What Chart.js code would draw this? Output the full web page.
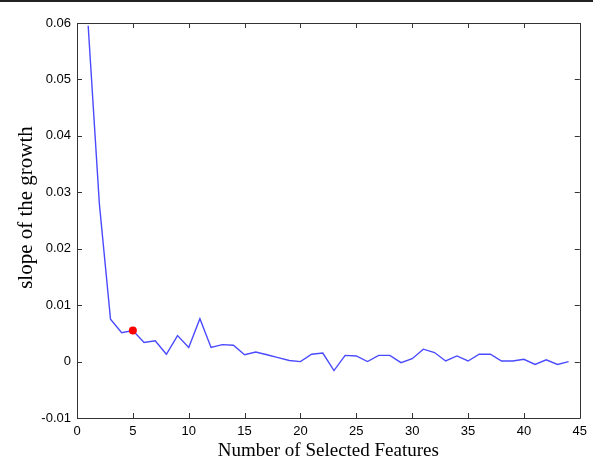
<!DOCTYPE html>
<html>
<head>
<meta charset="utf-8">
<script src="https://cdn.jsdelivr.net/npm/chart.js@4"></script>
<style>
  html, body { margin: 0; padding: 0; background: #fff; }
  canvas { display: block; }
</style>
</head>
<body>
<canvas id="c" width="593" height="460"></canvas>
<script>
// Number of selected features on the horizontal axis
const featureCounts = [
  1, 2, 3, 4, 5, 6, 7, 8, 9, 10, 11, 12, 13, 14, 15, 16, 17, 18, 19, 20, 21, 22,
  23, 24, 25, 26, 27, 28, 29, 30, 31, 32, 33, 34, 35, 36, 37, 38, 39, 40, 41, 42, 43, 44
];

// Slope of the growth for each feature count
const slopeValues = [
  0.0595, 0.0280, 0.0075, 0.0051, 0.0055, 0.0034, 0.0037, 0.0013, 0.0046, 0.0025, 0.0076,
  0.0025, 0.0030, 0.0029, 0.0012, 0.0017, 0.0012, 0.0007, 0.0002, 0.0000, 0.0013, 0.0015,
  -0.0016, 0.0011, 0.0010, 0.0000, 0.0011, 0.0011, -0.0002, 0.0005, 0.0022, 0.0016, 0.0001,
  0.0010, 0.0001, 0.0013, 0.0013, 0.0001, 0.0001, 0.0004, -0.0005, 0.0003, -0.0005, 0.0000
];

// Chosen number of features (highlighted point)
const selectedCount = 5;

// Tick values
const xTickValues = [0, 5, 10, 15, 20, 25, 30, 35, 40, 45];
const yTickValues = [-0.01, 0, 0.01, 0.02, 0.03, 0.04, 0.05, 0.06];

const yTitle = 'slope of the growth';

const linePoints = featureCounts.map((n, i) => ({ x: n, y: slopeValues[i] }));
const selectedPoint = [{ x: selectedCount, y: slopeValues[featureCounts.indexOf(selectedCount)] }];

// Box frame with inward tick marks on all four sides, the top rule and the y-axis title
const boxFrame = {
  id: 'boxFrame',
  afterDraw(chart) {
    const { ctx, chartArea: a, scales } = chart;
    const len = 5;
    ctx.save();
    ctx.strokeStyle = '#333';
    ctx.lineWidth = 1;
    ctx.beginPath();
    ctx.rect(Math.round(a.left) + 0.5, Math.round(a.top) + 0.5,
             Math.round(a.right - a.left), Math.round(a.bottom - a.top));
    xTickValues.forEach(v => {
      const px = Math.round(scales.x.getPixelForValue(v)) + 0.5;
      ctx.moveTo(px, a.bottom); ctx.lineTo(px, a.bottom - len);
      ctx.moveTo(px, a.top); ctx.lineTo(px, a.top + len);
    });
    yTickValues.forEach(v => {
      const py = Math.round(scales.y.getPixelForValue(v)) + 0.5;
      ctx.moveTo(a.left, py); ctx.lineTo(a.left + len, py);
      ctx.moveTo(a.right, py); ctx.lineTo(a.right - len, py);
    });
    ctx.stroke();
    ctx.fillStyle = '#222';
    ctx.fillRect(0, 0, chart.width, 2);

    // y-axis title, rotated
    ctx.translate(26, (a.top + a.bottom) / 2 - 13);
    ctx.rotate(-Math.PI / 2);
    ctx.font = '21px "Liberation Serif"';
    ctx.fillStyle = '#000';
    ctx.textAlign = 'center';
    ctx.textBaseline = 'middle';
    ctx.fillText(yTitle, 0, 0);
    ctx.restore();
  }
};

new Chart(document.getElementById('c'), {
  type: 'line',
  data: {
    datasets: [
      {
        data: selectedPoint,
        showLine: false,
        pointRadius: 4,
        pointBackgroundColor: '#ff0000',
        pointBorderColor: '#ff0000',
        pointBorderWidth: 0,
        order: 0
      },
      {
        data: linePoints,
        borderColor: '#4a4aff',
        borderWidth: 1.4,
        pointRadius: 0,
        tension: 0,
        fill: false,
        order: 1
      }
    ]
  },
  options: {
    responsive: false,
    animation: false,
    layout: { padding: { top: 23, right: 13, left: 0, bottom: 0 } },
    plugins: { legend: { display: false }, tooltip: { enabled: false } },
    scales: {
      x: {
        type: 'linear',
        min: 0,
        max: 45,
        afterBuildTicks(scale) { scale.ticks = xTickValues.map(v => ({ value: v })); },
        afterFit(scale) { scale.height = 42; },
        grid: { display: false, drawTicks: false },
        border: { display: false },
        ticks: {
          padding: 6,
          color: '#000',
          font: { family: 'Liberation Sans', size: 13 },
          callback: v => String(v)
        },
        title: {
          display: true,
          text: 'Number of Selected Features',
          color: '#000',
          font: { family: 'Liberation Serif', size: 19, lineHeight: 1 },
          padding: { top: 0, bottom: -1 }
        }
      },
      y: {
        type: 'linear',
        min: -0.01,
        max: 0.06,
        afterBuildTicks(scale) { scale.ticks = yTickValues.map(v => ({ value: v })); },
        afterFit(scale) { scale.width = 77; },
        grid: { display: false, drawTicks: false },
        border: { display: false },
        ticks: {
          padding: 6,
          color: '#000',
          font: { family: 'Liberation Sans', size: 13 },
          callback: v => (Math.abs(v) < 1e-9 ? '0' : v.toFixed(2))
        }
      }
    }
  },
  plugins: [boxFrame]
});
</script>
</body>
</html>
